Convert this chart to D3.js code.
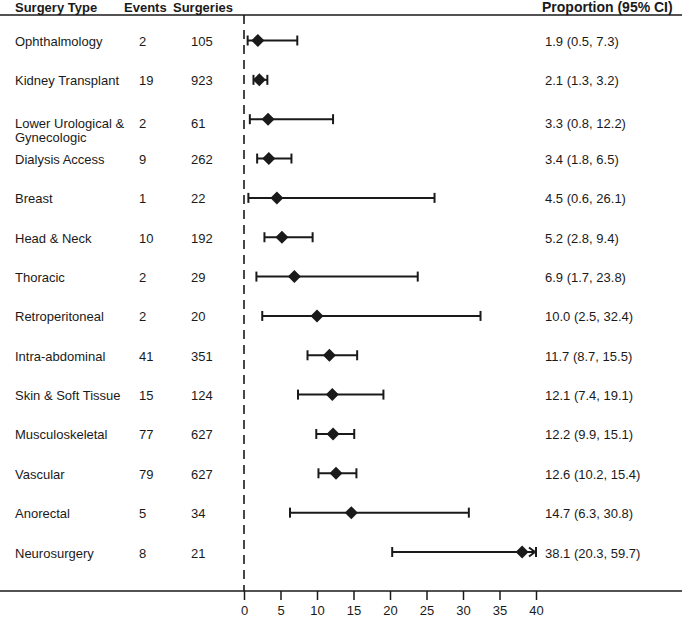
<!DOCTYPE html>
<html>
<head>
<meta charset="utf-8">
<script src="https://cdn.jsdelivr.net/npm/d3@7"></script>
<style>
  html, body { margin: 0; padding: 0; background: #fff; }
  svg { display: block; font-family: "Liberation Sans", Arial, sans-serif; }
</style>
</head>
<body>
<svg id="chart" width="685" height="617"></svg>
<script>
// ---- data ----
const surgeryTypes = ["Ophthalmology", "Kidney Transplant", "Lower Urological & Gynecologic", "Dialysis Access", "Breast", "Head & Neck", "Thoracic", "Retroperitoneal", "Intra-abdominal", "Skin & Soft Tissue", "Musculoskeletal", "Vascular", "Anorectal", "Neurosurgery"];
const labelLines = [["Ophthalmology"], ["Kidney Transplant"], ["Lower Urological &", "Gynecologic"], ["Dialysis Access"], ["Breast"], ["Head & Neck"], ["Thoracic"], ["Retroperitoneal"], ["Intra-abdominal"], ["Skin & Soft Tissue"], ["Musculoskeletal"], ["Vascular"], ["Anorectal"], ["Neurosurgery"]];
const events = [2, 19, 2, 9, 1, 10, 2, 2, 41, 15, 77, 79, 5, 8];
const surgeries = [105, 923, 61, 262, 22, 192, 29, 20, 351, 124, 627, 627, 34, 21];
const proportion = [1.9, 2.1, 3.3, 3.4, 4.5, 5.2, 6.9, 10.0, 11.7, 12.1, 12.2, 12.6, 14.7, 38.1];
const ciLow = [0.5, 1.3, 0.8, 1.8, 0.6, 2.8, 1.7, 2.5, 8.7, 7.4, 9.9, 10.2, 6.3, 20.3];
const ciHigh = [7.3, 3.2, 12.2, 6.5, 26.1, 9.4, 23.8, 32.4, 15.5, 19.1, 15.1, 15.4, 30.8, 59.7];
const xTicks = [0, 5, 10, 15, 20, 25, 30, 35, 40];
const headers = ["Surgery Type", "Events", "Surgeries", "Proportion (95% CI)"];

// ---- layout ----
const W = 685, H = 617;
const ink = "#1a1a1a";
const fs = 13;
const svg = d3.select("#chart");

const x = d3.scaleLinear().domain([0, 40]).range([244, 536]);
const y = d3.scalePoint().domain(surgeryTypes).range([40.5, 552]);
const topLineY = 15, axisY = 591;

const rows = surgeryTypes.map((s, i) => ({
  name: s, lines: labelLines[i], ev: events[i], n: surgeries[i],
  p: proportion[i], lo: ciLow[i], hi: ciHigh[i]
}));

// headers
const hx = [15, 124, 173, 542];
const hfs = [13, 13, 13, 14];
svg.selectAll("text.hdr").data(headers).join("text")
  .attr("class", "hdr")
  .attr("x", (d, i) => hx[i]).attr("y", 12)
  .attr("font-size", (d, i) => hfs[i]).attr("font-weight", "bold").attr("fill", ink)
  .text(d => d);

// top line
svg.append("line").attr("x1", 0).attr("x2", 682).attr("y1", topLineY).attr("y2", topLineY)
  .attr("stroke", ink).attr("stroke-width", 1.5);

// dashed zero line
svg.append("line").attr("x1", x(0)).attr("x2", x(0)).attr("y1", topLineY).attr("y2", axisY)
  .attr("stroke", ink).attr("stroke-width", 1.6).attr("stroke-dasharray", "9,6");

// axis
const axis = d3.axisBottom(x).tickValues(xTicks).tickSize(9).tickPadding(6).tickFormat(d3.format("d"));
const ag = svg.append("g").attr("transform", `translate(0,${axisY})`).call(axis);
ag.select(".domain").remove();
ag.selectAll(".tick line").attr("stroke", ink).attr("stroke-width", 1.5);
ag.selectAll(".tick text").attr("fill", ink).attr("font-size", fs).attr("font-family", "Liberation Sans, Arial, sans-serif");
svg.append("line").attr("x1", 0).attr("x2", 682).attr("y1", axisY).attr("y2", axisY)
  .attr("stroke", ink).attr("stroke-width", 1.5);

// text columns
const g = svg.append("g");
rows.forEach(r => {
  const cy = y(r.name);
  const off = r.lines.length > 1 ? 8.5 : 5.5;
  const tl = g.append("text").attr("x", 15).attr("y", cy + off)
    .attr("font-size", fs).attr("fill", ink);
  r.lines.forEach((l, j) => tl.append("tspan").attr("x", 15).attr("dy", j === 0 ? 0 : 14).text(l));
  g.append("text").attr("x", 139).attr("y", cy + off).attr("font-size", fs).attr("fill", ink).text(r.ev);
  g.append("text").attr("x", 191).attr("y", cy + off).attr("font-size", fs).attr("fill", ink).text(r.n);
  g.append("text").attr("x", 545).attr("y", cy + off).attr("font-size", fs).attr("fill", ink)
    .text(`${r.p.toFixed(1)} (${r.lo.toFixed(1)}, ${r.hi.toFixed(1)})`);
});

// CI bars
const maxX = x.domain()[1];
const bars = svg.append("g");
rows.forEach(r => {
  const cy = y(r.name);
  const hiC = Math.min(r.hi, maxX);
  const x1 = x(r.lo), x2 = x(hiC);
  bars.append("line").attr("x1", x1).attr("x2", x2).attr("y1", cy).attr("y2", cy)
    .attr("stroke", ink).attr("stroke-width", 2);
  [x1, x2].forEach(xx => bars.append("line").attr("x1", xx).attr("x2", xx)
    .attr("y1", cy - 5).attr("y2", cy + 5).attr("stroke", ink).attr("stroke-width", 2));
  if (r.hi > maxX) {
    bars.append("path")
      .attr("d", `M${x2 - 7},${cy - 4.5}L${x2 - 1},${cy}L${x2 - 7},${cy + 4.5}`)
      .attr("fill", "none").attr("stroke", ink).attr("stroke-width", 2);
  }
  const px = x(r.p), s = 6.5;
  bars.append("path")
    .attr("d", `M${px - s},${cy}L${px},${cy - s}L${px + s},${cy}L${px},${cy + s}Z`)
    .attr("fill", ink);
});
</script>
</body>
</html>
